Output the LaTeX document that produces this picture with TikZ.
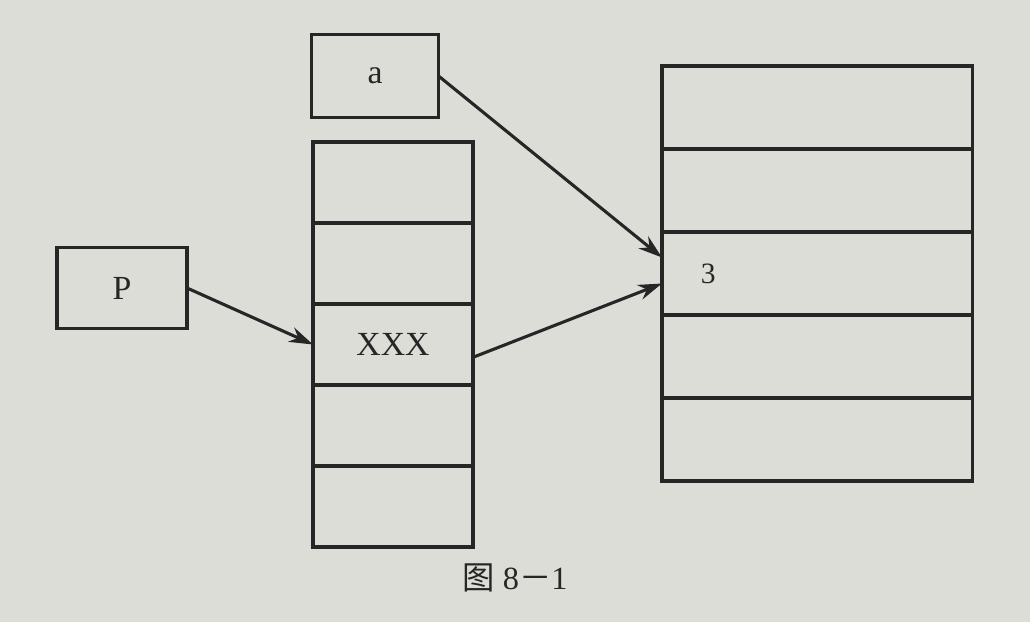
\documentclass[tikz,border=0pt]{standalone}
\usepackage{fontspec}
\setmainfont{Liberation Serif}
\newfontfamily\cjk{Noto Sans CJK SC}
\usetikzlibrary{arrows.meta,positioning}

\definecolor{paper}{RGB}{221,221,216}
\definecolor{ink}{RGB}{38,38,38}

\tikzset{
  box/.style={draw=ink,line width=2.2pt,outer sep=0pt,inner sep=0pt,
    font=\fontsize{24}{28}\selectfont,text=ink},
  midcell/.style={box,minimum width=4cm,minimum height=2.025cm},
  bigcell/.style={box,minimum width=7.75cm,minimum height=2.075cm},
  ptr/.style={draw=ink,line width=2.2pt,-{Stealth[length=17pt,width=11pt]}}
}

\begin{document}
\begin{tikzpicture}[x=0.025cm,y=-0.025cm]
  % page
  \fill[paper] (0,0) rectangle (1030,622);

  % pointer boxes
  \node[box,minimum width=3.175cm,minimum height=2.075cm] (a) at (375,76) {a};
  \node[box,minimum width=3.25cm,minimum height=2.025cm] (P) at (122,288) {P};

  % middle column
  \foreach \i/\txt in {1/{},2/{},3/XXX,4/{},5/{}}
    \node[midcell] (m\i) at (393,101.5+81*\i) {\txt};

  % right column
  \foreach \i in {1,...,5}
    \node[bigcell] (r\i) at (817,24.5+83*\i) {};
  \node[anchor=west,text=ink,font=\fontsize{21}{24}\selectfont]
    (three) at ([xshift=0.85cm]r3.west) {3};

  % arrows
  \draw[ptr] (a.east) -- ([yshift=0.4cm]r3.west);
  \draw[ptr] (P.east) -- (m3.west);
  \draw[ptr] ([yshift=-0.32cm]m3.east) -- ([yshift=-0.25cm]r3.west);

  % caption
  \node[text=ink,font=\fontsize{23}{26}\selectfont] (cap) at (515,578)
    {{\cjk 图} 8{\cjk －}1};
\end{tikzpicture}
\end{document}
